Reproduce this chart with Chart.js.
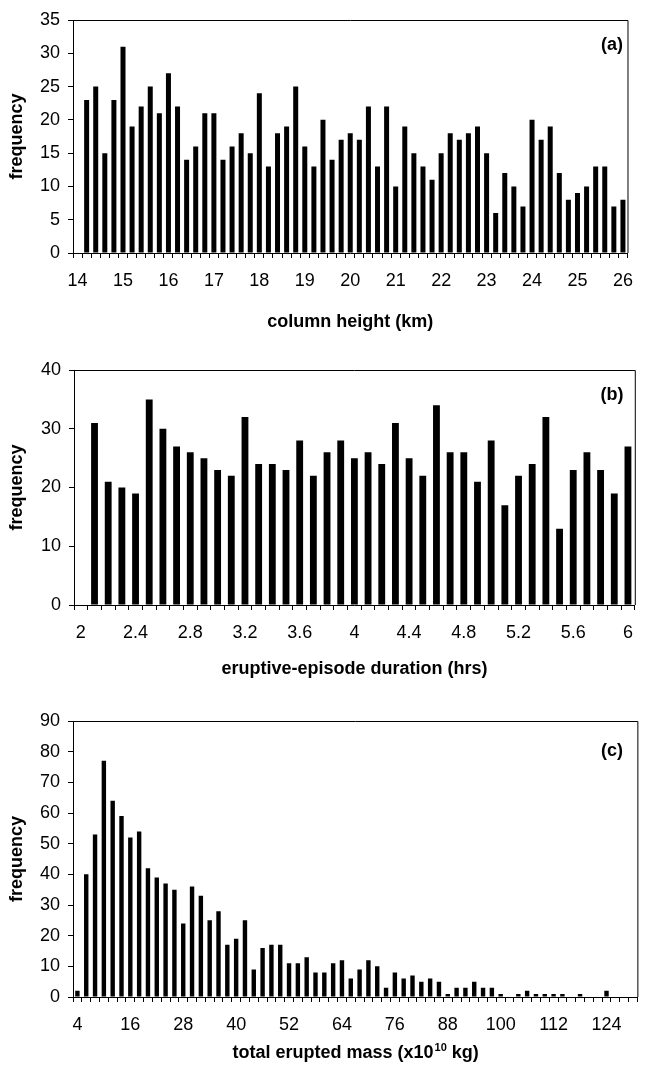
<!DOCTYPE html>
<html>
<head>
<meta charset="utf-8">
<script src="https://cdn.jsdelivr.net/npm/chart.js@4.4.0/dist/chart.umd.min.js"></script>
<style>
  html, body { margin: 0; padding: 0; background: #fff; }
  #wrap { position: relative; width: 645px; height: 1069px; }
  .pane { position: absolute; left: 0; width: 645px; }
</style>
</head>
<body>
<div id="wrap">
  <div class="pane" style="top:0px;height:340px"><canvas id="chartA"></canvas></div>
  <div class="pane" style="top:340px;height:350px"><canvas id="chartB"></canvas></div>
  <div class="pane" style="top:690px;height:379px"><canvas id="chartC"></canvas></div>
</div>
<script>
// ---------- data (a) column height ----------
const heightBins = ['14','14.2','14.4','14.6','14.8','15','15.2','15.4','15.6','15.8',
  '16','16.2','16.4','16.6','16.8','17','17.2','17.4','17.6','17.8',
  '18','18.2','18.4','18.6','18.8','19','19.2','19.4','19.6','19.8',
  '20','20.2','20.4','20.6','20.8','21','21.2','21.4','21.6','21.8',
  '22','22.2','22.4','22.6','22.8','23','23.2','23.4','23.6','23.8',
  '24','24.2','24.4','24.6','24.8','25','25.2','25.4','25.6','25.8','26'];
const heightFreq = [0,23,25,15,23,31,19,22,25,21,
  27,22,14,16,21,21,14,16,18,15,
  24,13,18,19,25,16,13,20,14,17,
  18,17,22,13,22,10,19,15,13,11,
  15,18,17,18,19,15,6,12,10,7,
  20,17,19,12,8,9,10,13,13,7,8];

// ---------- data (b) eruptive-episode duration ----------
const durationBins = ['2','2.1','2.2','2.3','2.4','2.5','2.6','2.7','2.8','2.9',
  '3','3.1','3.2','3.3','3.4','3.5','3.6','3.7','3.8','3.9',
  '4','4.1','4.2','4.3','4.4','4.5','4.6','4.7','4.8','4.9',
  '5','5.1','5.2','5.3','5.4','5.5','5.6','5.7','5.8','5.9','6'];
const durationFreq = [0,31,21,20,19,35,30,27,26,25,
  23,22,32,24,24,23,28,22,26,28,
  25,26,24,31,25,22,34,26,26,21,
  28,17,22,24,32,13,23,26,23,19,27];

// ---------- data (c) total erupted mass ----------
const massBins = ['4','6','8','10','12','14','16','18','20','22',
  '24','26','28','30','32','34','36','38','40','42',
  '44','46','48','50','52','54','56','58','60','62',
  '64','66','68','70','72','74','76','78','80','82',
  '84','86','88','90','92','94','96','98','100','102',
  '104','106','108','110','112','114','116','118','120','122',
  '124','126','128','130'];
const massFreq = [2,40,53,77,64,59,52,54,42,39,
  37,35,24,36,33,25,28,17,19,25,
  9,16,17,17,11,11,13,8,8,11,
  12,6,9,12,10,3,8,6,7,5,
  6,5,1,3,3,5,3,3,1,0,
  1,2,1,1,1,1,0,1,0,0,
  2,0,0,0];

const FONT = 'Liberation Sans, Arial, sans-serif';
const TICK = 18, TITLE = 18;

// box round the plot area + panel letter (+ title with superscript for (c))
const framePlugin = {
  id: 'frame',
  afterDraw(chart, args, opts) {
    const {ctx, chartArea: a} = chart;
    ctx.save();
    ctx.strokeStyle = '#000';
    ctx.lineWidth = 1;
    ctx.beginPath();
    ctx.moveTo(a.left, a.top + 0.5);
    ctx.lineTo(a.right + 0.5, a.top + 0.5);
    ctx.lineTo(a.right + 0.5, a.bottom);
    ctx.stroke();
    ctx.fillStyle = '#000';
    ctx.font = 'bold 18px ' + FONT;
    ctx.textAlign = 'center';
    ctx.textBaseline = 'middle';
    ctx.fillText(opts.letter, opts.lx, a.top + opts.ly);

    if (opts.supTitle) {
      // "total erupted mass (x10^10 kg)"
      const [pre, sup, post] = opts.supTitle;
      const big = 'bold ' + TITLE + 'px ' + FONT;
      const small = 'bold 11px ' + FONT;
      ctx.font = big;
      const w1 = ctx.measureText(pre).width, w3 = ctx.measureText(post).width;
      ctx.font = small;
      const w2 = ctx.measureText(sup).width;
      let x = (a.left + a.right) / 2 - (w1 + w2 + w3) / 2;
      const y = chart.height - opts.supY;
      ctx.textAlign = 'left';
      ctx.textBaseline = 'alphabetic';
      ctx.font = big;
      ctx.fillText(pre, x, y);
      x += w1;
      ctx.font = small;
      ctx.fillText(sup, x + 1, y - 7);
      x += w2 + 1;
      ctx.font = big;
      ctx.fillText(post, x, y);
    }
    ctx.restore();
  }
};

function makeChart(id, labels, values, o) {
  return new Chart(document.getElementById(id), {
    type: 'bar',
    data: {
      labels: labels,
      datasets: [{
        data: values,
        backgroundColor: '#000',
        borderWidth: 0,
        barPercentage: o.barPct,
        categoryPercentage: 1.0
      }]
    },
    options: {
      responsive: true,
      maintainAspectRatio: false,
      animation: false,
      layout: { padding: { top: o.top, right: o.right, left: 0, bottom: 0 } },
      plugins: {
        legend: { display: false },
        tooltip: { enabled: false },
        frame: { letter: o.letter, lx: 612, ly: o.ly, supTitle: o.supTitle, supY: o.supY }
      },
      scales: {
        x: {
          type: 'category',
          afterFit: s => { s.height = o.xh; },
          grid: { offset: true, drawOnChartArea: false, color: '#000', tickLength: 5, tickColor: '#000' },
          border: { color: '#000', width: 1 },
          ticks: {
            autoSkip: false, maxRotation: 0, color: '#000', padding: 12,
            font: { family: FONT, size: TICK },
            callback: function(v, i) { return i % o.every === 0 ? labels[i] : ''; }
          },
          title: {
            display: !o.supTitle, text: o.xtitle, color: '#000',
            font: { family: FONT, size: TITLE, weight: 'bold' },
            padding: { top: 0, bottom: o.titlePad }
          }
        },
        y: {
          min: 0, max: o.ymax,
          afterFit: s => { s.width = o.left; },
          grid: { drawOnChartArea: false, color: '#000', tickLength: 5, tickColor: '#000' },
          border: { color: '#000', width: 1 },
          ticks: {
            stepSize: o.step, color: '#000', padding: 8,
            font: { family: FONT, size: TICK }
          },
          title: {
            display: true, text: 'frequency', color: '#000',
            font: { family: FONT, size: TITLE, weight: 'bold' },
            padding: { top: 6, bottom: 0 }
          }
        }
      }
    },
    plugins: [framePlugin]
  });
}

makeChart('chartA', heightBins, heightFreq, {
  top: 20, right: 6, left: 73, xh: 87, titlePad: 7, every: 5,
  ymax: 35, step: 5, barPct: 0.55, letter: '(a)', ly: 25,
  xtitle: 'column height (km)'
});
makeChart('chartB', durationBins, durationFreq, {
  top: 30, right: 4, left: 74, xh: 85, titlePad: 10, every: 4,
  ymax: 40, step: 10, barPct: 0.5, letter: '(b)', ly: 25,
  xtitle: 'eruptive-episode duration (hrs)'
});
makeChart('chartC', massBins, massFreq, {
  top: 31, right: 5, left: 73, xh: 72, titlePad: 6, every: 6,
  ymax: 90, step: 10, barPct: 0.5, letter: '(c)', ly: 30,
  xtitle: 'total erupted mass (x10 kg)',
  supTitle: ['total erupted mass (x10', '10', ' kg)'], supY: 11
});
</script>
</body>
</html>
